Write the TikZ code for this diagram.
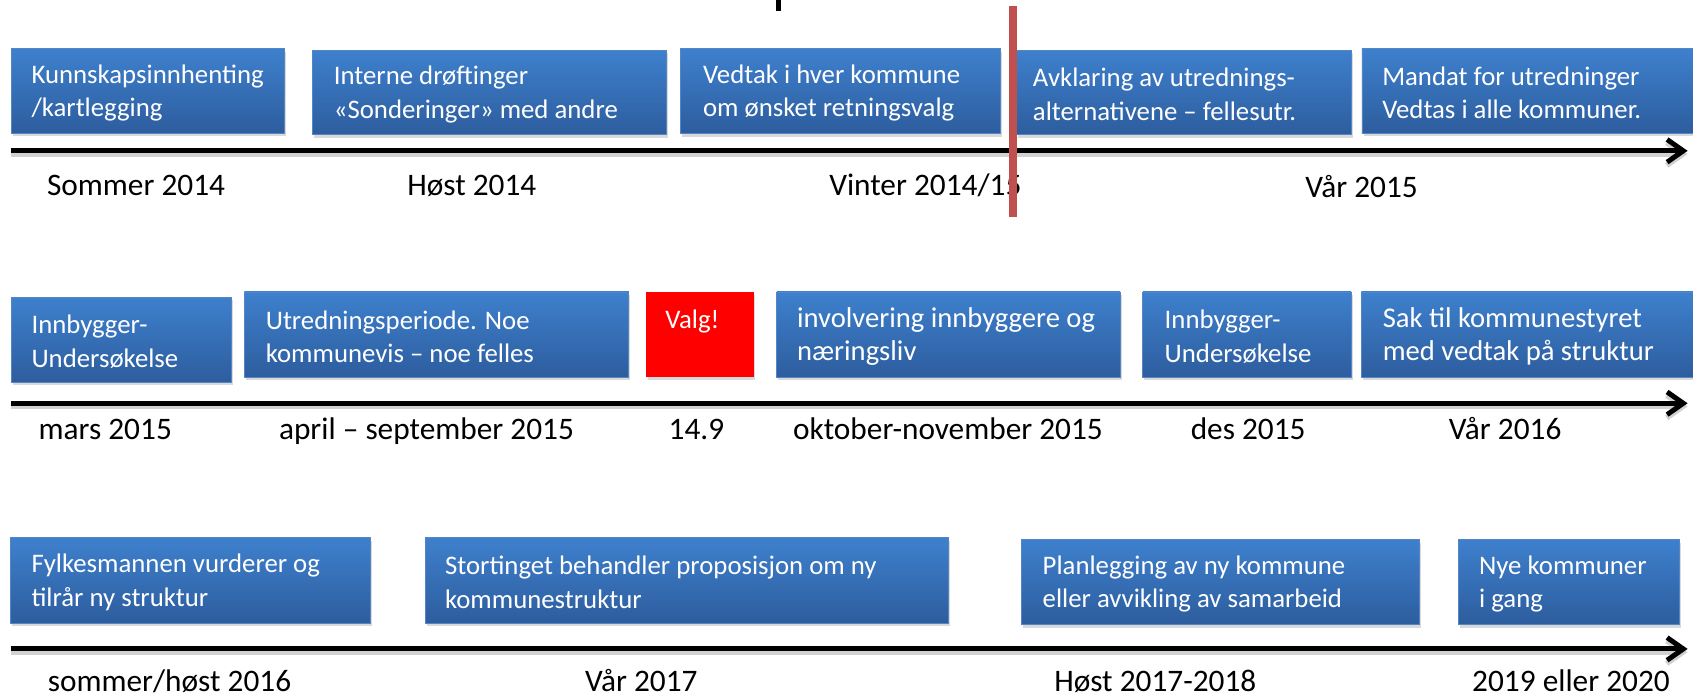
\documentclass[tikz,border=0pt]{standalone}
\usepackage{fontspec}
\setmainfont{Carlito}
\usetikzlibrary{positioning,arrows.meta,shadows}

\definecolor{boxtop}{RGB}{62,128,205}
\definecolor{boxbot}{RGB}{45,93,158}
\definecolor{boxedge}{RGB}{84,134,198}
\definecolor{markred}{RGB}{192,80,77}

\begin{document}
\begin{tikzpicture}[x=1pt,y=-1pt,
    box/.style={rectangle, anchor=north west, inner sep=0, top color=boxtop, bottom color=boxbot, draw=boxedge, line width=0.8,
        drop shadow={opacity=0.3, shadow xshift=1.5pt, shadow yshift=-3pt}},
    valgbox/.style={rectangle, anchor=north west, inner sep=0, fill=red,
        drop shadow={opacity=0.3, shadow xshift=1.5pt, shadow yshift=-3pt}},
    txt/.style={anchor=west, align=left, inner sep=0, text=white, font=\fontsize{24.8}{31}\selectfont, yshift=-2pt},
    bigtxt/.style={txt, font=\fontsize{26.5}{30.5}\selectfont},
    lbl/.style={anchor=base, inner sep=0, font=\fontsize{29}{34}\selectfont},
    axis/.style={line width=4.6, -{Straight Barb[length=15pt,width=21pt]},
        preaction={draw=black!18, line width=5, transform canvas={yshift=-3pt}}}]
    \useasboundingbox (0,0) rectangle (1568,644.6);

    % title remnant
    \fill (718.5,0) rectangle (723,10.5);

    % Row 1
    \node[box, minimum width=253, minimum height=78.5] (k1) at (10,44.5) {};
    \node[box, minimum width=328, minimum height=78] (k2) at (289,46) {};
    \node[box, minimum width=296.5, minimum height=78.5] (k3) at (630,44.7) {};
    \node[box, minimum width=310.5, minimum height=78] (k4) at (940.5,46) {};
    \node[box, minimum width=320, minimum height=78.5] (k5) at (1261,44.5) {};
    \node[txt] (tk1) at ([xshift=19]k1.west) {Kunnskapsinnhenting\\/kartlegging};
    \node[txt] (tk2) at ([xshift=20]k2.west) {Interne drøftinger\\«Sonderinger» med andre};
    \node[txt] (tk3) at ([xshift=21]k3.west) {Vedtak i hver kommune\\om ønsket retningsvalg};
    \node[txt] (tk4) at ([xshift=16]k4.west) {Avklaring av utrednings-\\alternativene – fellesutr.};
    \node[txt] (tk5) at ([xshift=19]k5.west) {Mandat for utredninger\\Vedtas i alle kommuner.};

    \coordinate (a1s) at (10,139.7);
    \coordinate (a1e) at (1563,139.7);
    \draw[axis] (a1s) -- (a1e);

    \node[lbl] (l11) at (126,181) {Sommer 2014};
    \node[lbl] (l12) at (437,181) {Høst 2014};
    \node[lbl] (l13) at (857,181) {Vinter 2014/15};
    \node[lbl] (l14) at (1261,182.5) {Vår 2015};

    % Row 2
    \node[box, minimum width=204, minimum height=78.7] (i1) at (10,274.7) {};
    \node[box, minimum width=356, minimum height=79] (i2) at (226,270) {};
    \node[valgbox, minimum width=100, minimum height=79] (v) at (598,270) {};
    \node[box, minimum width=318, minimum height=79] (i4) at (719,270) {};
    \node[box, minimum width=193, minimum height=79] (i5) at (1058,270) {};
    \node[box, minimum width=320, minimum height=79] (i6) at (1260.5,270) {};
    \node[txt] (ti1) at ([xshift=19]i1.west) {Innbygger-\\Undersøkelse};
    \node[txt] (ti2) at ([xshift=20]i2.west) {Utredningsperiode. Noe\\kommunevis – noe felles};
    \node[txt, anchor=base west] (tv) at ([xshift=18,yshift=-32]v.north west) {Valg!};
    \node[bigtxt] (ti4) at ([xshift=19]i4.west) {involvering innbyggere og\\næringsliv};
    \node[txt] (ti5) at ([xshift=20.5]i5.west) {Innbygger-\\Undersøkelse};
    \node[bigtxt] (ti6) at ([xshift=20]i6.west) {Sak til kommunestyret\\med vedtak på struktur};

    \coordinate (a2s) at (10,373.5);
    \coordinate (a2e) at (1563,373.5);
    \draw[axis] (a2s) -- (a2e);

    \node[lbl] (l21) at (97.5,407.4) {mars 2015};
    \node[lbl] (l22) at (395,407.4) {april – september 2015};
    \node[lbl] (l23) at (645,407.4) {14.9};
    \node[lbl] (l24) at (878,407.4) {oktober-november 2015};
    \node[lbl] (l25) at (1156,407.4) {des 2015};
    \node[lbl] (l26) at (1394,407.4) {Vår 2016};

    % Row 3
    \node[box, minimum width=333.4, minimum height=79] (f1) at (9.6,497.6) {};
    \node[box, minimum width=484.6, minimum height=79] (f2) at (393.4,497.6) {};
    \node[box, minimum width=368.6, minimum height=78.4] (f3) at (945.8,499.4) {};
    \node[box, minimum width=205, minimum height=78.4] (f4) at (1350,499.4) {};
    \node[txt] (tf1) at ([xshift=19.4]f1.west) {Fylkesmannen vurderer og\\tilrår ny struktur};
    \node[txt] (tf2) at ([xshift=18.6]f2.west) {Stortinget behandler proposisjon om ny\\kommunestruktur};
    \node[txt] (tf3) at ([xshift=19.7]f3.west) {Planlegging av ny kommune\\eller avvikling av samarbeid};
    \node[txt] (tf4) at ([xshift=19.7]f4.west) {Nye kommuner\\i gang};

    \coordinate (a3s) at (10,601);
    \coordinate (a3e) at (1563,601);
    \draw[axis] (a3s) -- (a3e);

    \node[lbl] (l31) at (157,640) {sommer/høst 2016};
    \node[lbl] (l32) at (594,640) {Vår 2017};
    \node[lbl] (l33) at (1070,640) {Høst 2017-2018};
    \node[lbl] (l34) at (1455,640) {2019 eller 2020};

    % marker
    \coordinate (mtop) at (938,6);
    \coordinate (mbot) at (938,201);
    \draw[markred, line width=7] (mtop) -- (mbot);
\end{tikzpicture}
\end{document}
